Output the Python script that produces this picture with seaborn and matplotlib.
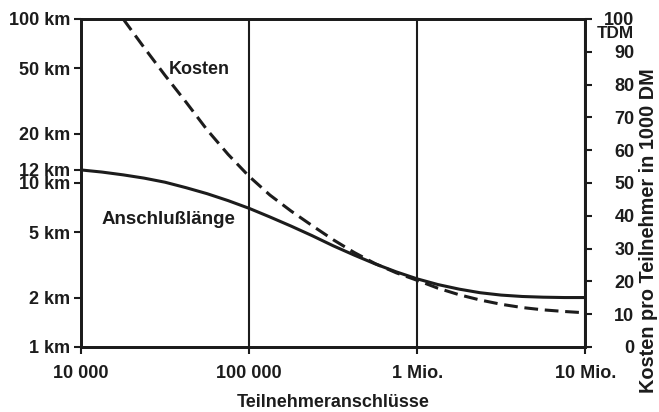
import matplotlib
matplotlib.use("Agg")
import matplotlib.pyplot as plt
from matplotlib.ticker import NullLocator, FixedLocator, FixedFormatter
import seaborn as sns
import pandas as pd

# ---- data ----
subscribers = [10_000, 13_300, 17_800, 23_700, 31_600, 42_200, 56_200, 75_000,
               100_000, 133_000, 178_000, 237_000, 316_000, 422_000, 562_000,
               750_000, 1_000_000, 1_330_000, 1_780_000, 2_370_000, 3_160_000,
               4_220_000, 5_620_000, 7_500_000, 10_000_000]
length_km = [12.0, 11.65, 11.2, 10.7, 10.1, 9.35, 8.6, 7.8,
             7.0, 6.2, 5.45, 4.77, 4.14, 3.63, 3.21,
             2.87, 2.6, 2.4, 2.25, 2.14, 2.07,
             2.03, 2.01, 2.0, 2.0]

cost_subscribers = [17_800, 23_700, 31_600, 42_200, 56_200, 75_000,
                    100_000, 133_000, 178_000, 237_000, 316_000, 422_000, 562_000,
                    750_000, 1_000_000, 1_330_000, 1_780_000, 2_370_000, 3_160_000,
                    4_220_000, 5_620_000, 7_500_000, 10_000_000]
cost_tdm = [100, 91.3, 82.8, 74.6, 66.2, 58.7,
            52.0, 46.3, 41.4, 37.0, 32.7, 28.8, 25.4,
            22.6, 20.3, 17.9, 15.9, 14.3, 13.0,
            12.0, 11.3, 10.8, 10.4]

x_ticks = [10_000, 100_000, 1_000_000, 10_000_000]
x_tick_labels = ["10 000", "100 000", "1 Mio.", "10 Mio."]
left_ticks = [1, 2, 5, 10, 12, 20, 50, 100]
left_tick_labels = ["1 km", "2 km", "5 km", "10 km", "12 km", "20 km", "50 km", "100 km"]
right_ticks = [0, 10, 20, 30, 40, 50, 60, 70, 80, 90, 100]
right_tick_labels = [str(v) for v in right_ticks]

length_df = pd.DataFrame({"Teilnehmer": subscribers, "km": length_km})
cost_df = pd.DataFrame({"Teilnehmer": cost_subscribers, "TDM": cost_tdm})

ink = "#1c1c1c"
fs = 13

sns.set_theme(style="ticks")
plt.rcParams["font.family"] = ["Liberation Sans", "DejaVu Sans"]
plt.rcParams["font.weight"] = "bold"

fig = plt.figure(figsize=(6.59, 4.12), dpi=100)
fig.patch.set_facecolor("white")
ax = fig.add_axes([0.123, 0.158, 0.765, 0.796])
ax2 = ax.twinx()

sns.lineplot(data=length_df, x="Teilnehmer", y="km", ax=ax, color=ink,
             linewidth=2.2, legend=False)
sns.lineplot(data=cost_df, x="Teilnehmer", y="TDM", ax=ax2, color=ink,
             linewidth=2.2, linestyle=(0, (4.5, 2.2)), legend=False)

ax.set_xscale("log")
ax.set_yscale("log")
ax.set_xlim(x_ticks[0], x_ticks[-1])
ax.set_ylim(1, 100)
ax2.set_ylim(0, 100)

for a in (ax, ax2):
    a.xaxis.set_minor_locator(NullLocator())
    a.yaxis.set_minor_locator(NullLocator())
ax.xaxis.set_major_locator(FixedLocator(x_ticks))
ax.xaxis.set_major_formatter(FixedFormatter(x_tick_labels))
ax.yaxis.set_major_locator(FixedLocator(left_ticks))
ax.yaxis.set_major_formatter(FixedFormatter(left_tick_labels))
ax2.yaxis.set_major_locator(FixedLocator(right_ticks))
ax2.yaxis.set_major_formatter(FixedFormatter(right_tick_labels))

ax.grid(axis="x", which="major", color=ink, linewidth=1.5)
ax.set_axisbelow(True)

for a in (ax, ax2):
    for s in a.spines.values():
        s.set_linewidth(2.0)
        s.set_color(ink)

ax.tick_params(axis="both", direction="out", length=5, width=1.5, colors=ink,
               labelsize=fs, pad=3)
ax.tick_params(axis="x", pad=8)
ax2.tick_params(axis="y", direction="out", length=5, width=1.5, colors=ink,
                labelsize=fs, pad=30.5)
for lbl in ax2.get_yticklabels():
    lbl.set_horizontalalignment("right")

ax.set_xlabel("Teilnehmeranschlüsse", fontsize=fs, fontweight="bold", color=ink)
ax.xaxis.label.set_verticalalignment("center")
ax.xaxis.set_label_coords(0.5, (347 - 403) / 328)
ax.set_ylabel("")
ax2.set_ylabel("")

ax2.annotate("TDM", xy=(1, 100), xycoords=("axes fraction", "data"),
             xytext=(34.8, -10.2), textcoords="offset points", ha="right",
             va="center", fontsize=12.3, fontweight="bold", color=ink)

fig.text(648 / 659, 1 - 231 / 412, "Kosten pro Teilnehmer in 1000 DM",
         rotation=90, ha="center", va="center", fontsize=14.3,
         fontweight="bold", color=ink)

ax.text(50_400, 49.5, "Kosten", ha="center", va="center", fontsize=fs,
        fontweight="bold", color=ink)
ax.text(33_000, 5.98, "Anschlußlänge", ha="center", va="center",
        fontsize=13.5, fontweight="bold", color=ink)

fig.savefig("out.png", dpi=100, facecolor="white")
